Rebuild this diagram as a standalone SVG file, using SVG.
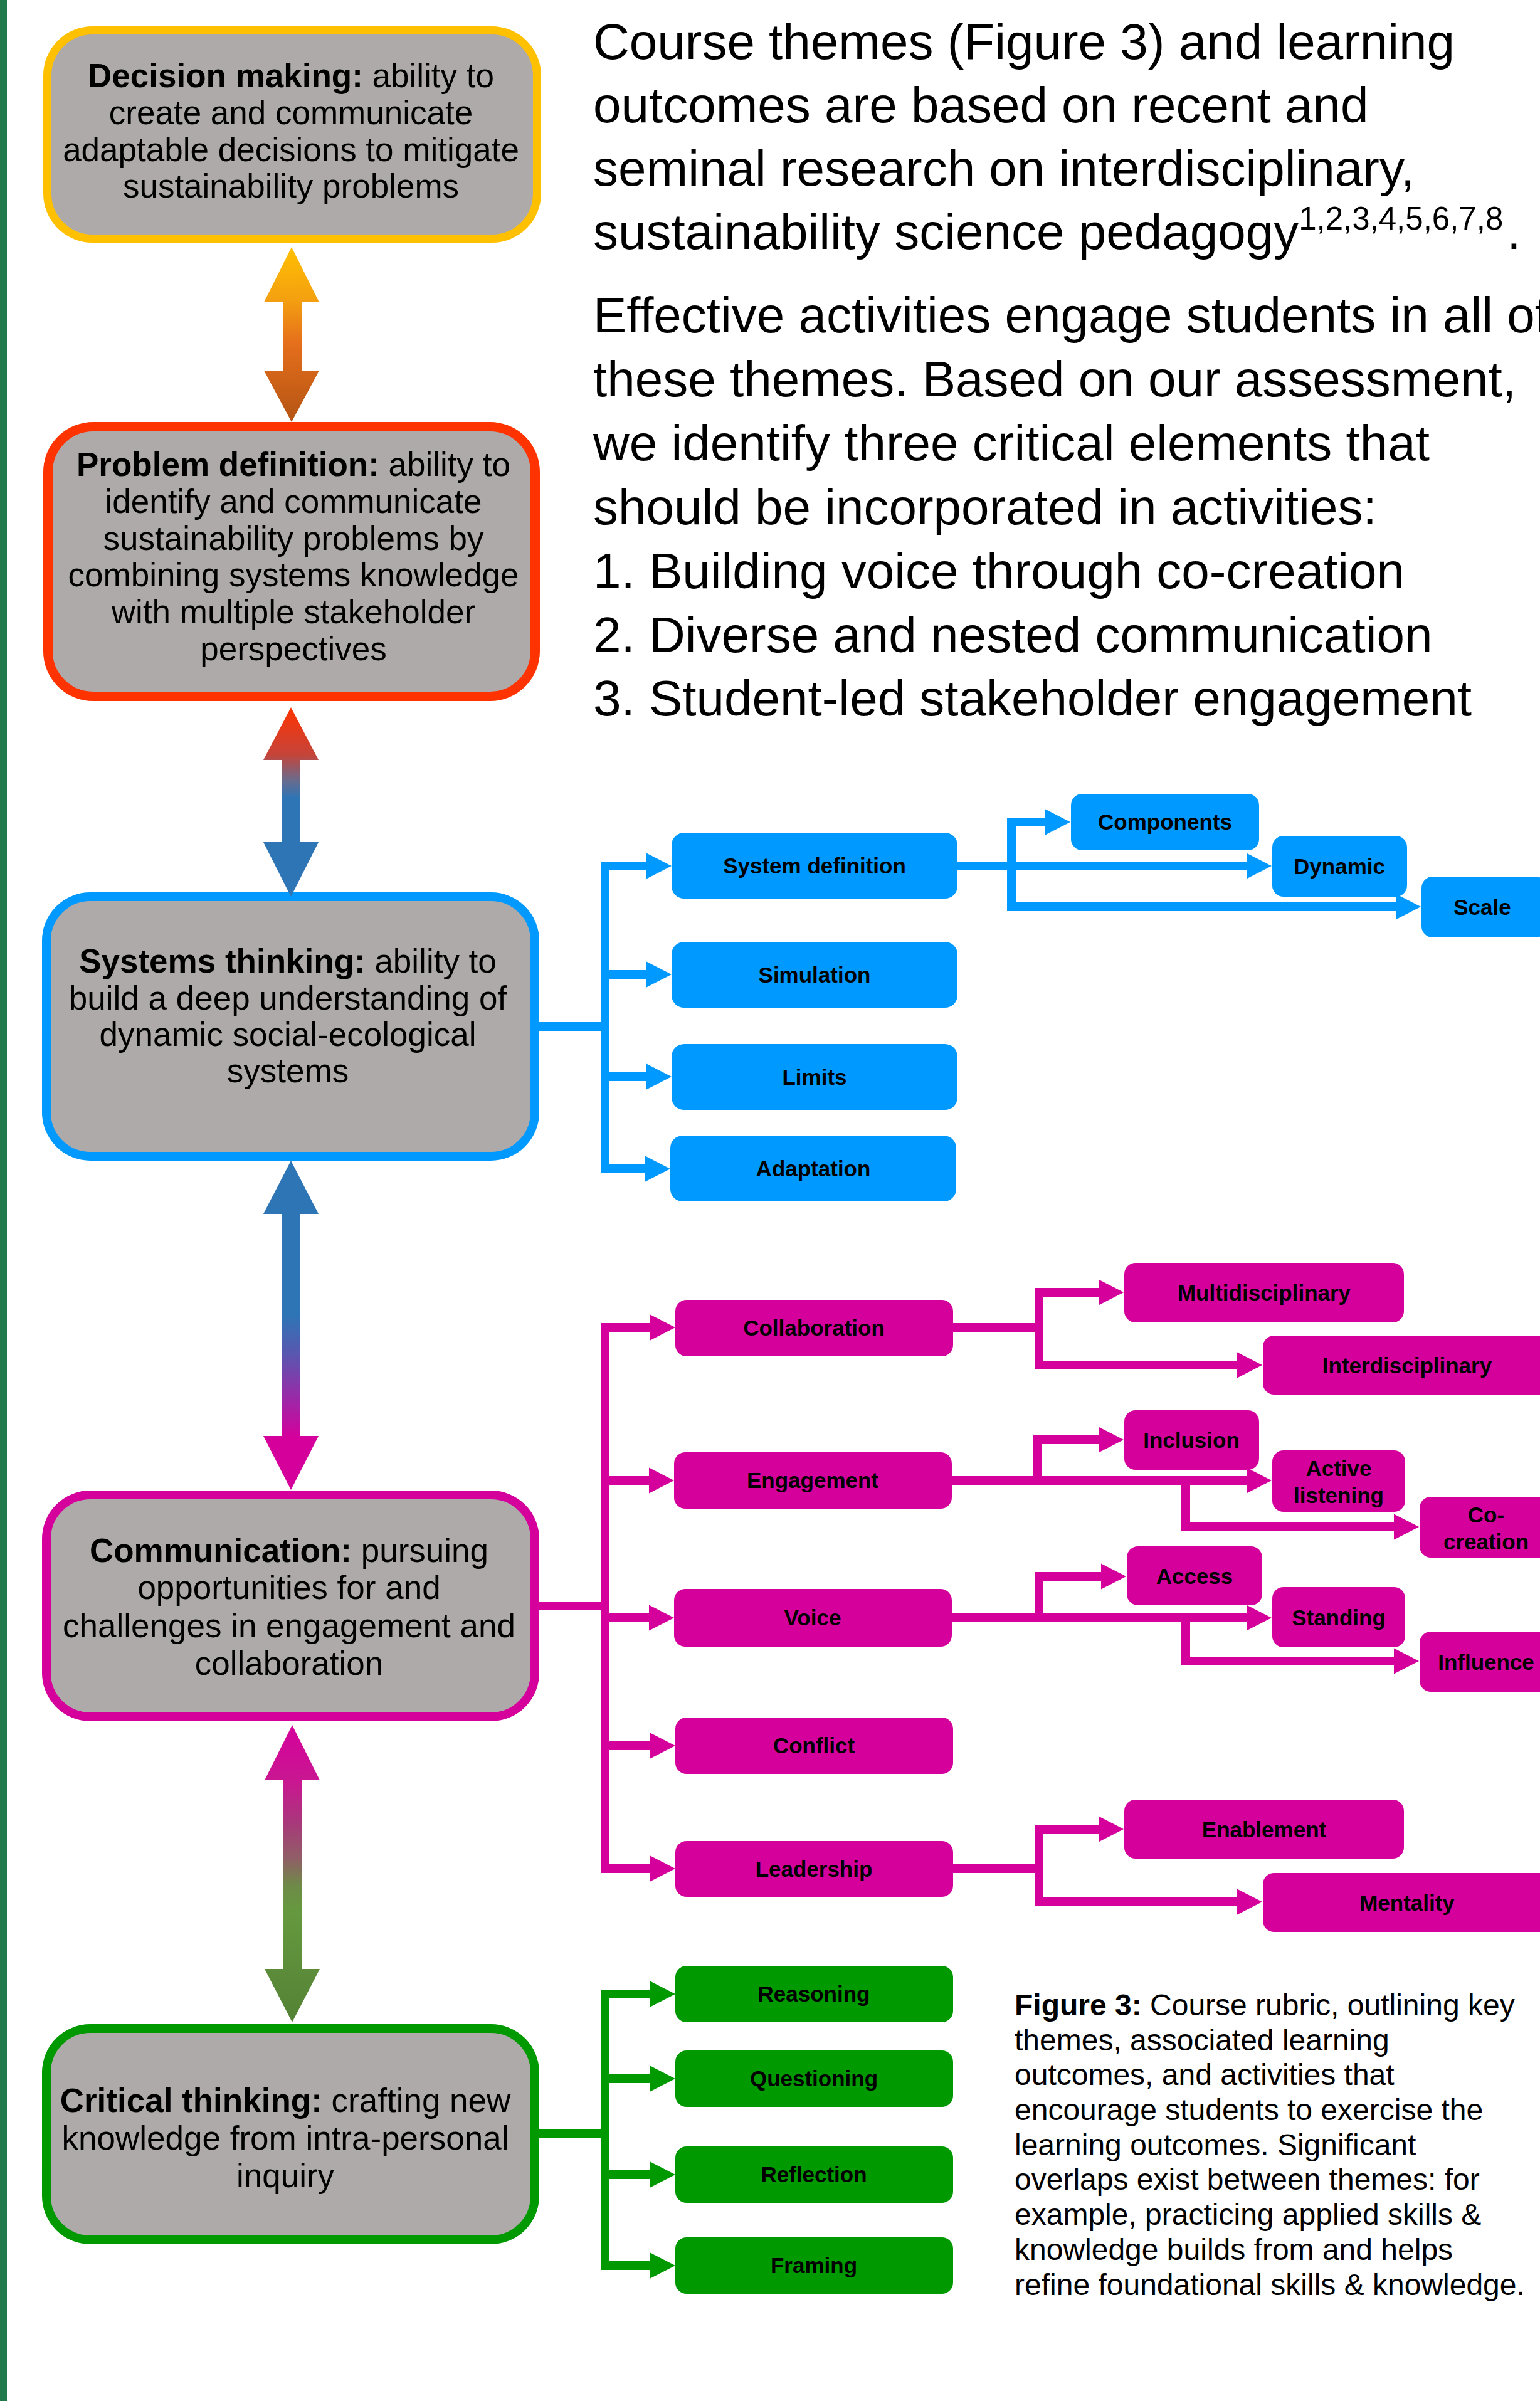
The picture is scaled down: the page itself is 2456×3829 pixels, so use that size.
<svg xmlns="http://www.w3.org/2000/svg" width="2456" height="3829" viewBox="0 0 2456 3829">
<style>
  text { font-family: "Liberation Sans", Arial, Helvetica, sans-serif; fill: #000; }
  .theme rect { fill: #aeaaaa; }
  .theme text { font-size: 53px; text-anchor: middle; }
  .b { font-weight: bold; }
  .node text { font-size: 35px; font-weight: bold; text-anchor: middle; }
  .blue rect { fill: #0099ff; }
  .mag rect { fill: #d5009c; }
  .grn rect { fill: #009900; }
  .cb, .cm, .cg { fill: none; stroke-width: 14; stroke-linejoin: miter; }
  .cb { stroke: #0099ff; }
  .cm { stroke: #d5009c; }
  .cg { stroke: #009900; }
  .para { font-size: 80px; }
  .cap { font-size: 48px; }
</style>
<defs>
  <marker id="headB" markerUnits="userSpaceOnUse" markerWidth="40" markerHeight="41" refX="0" refY="20.5" orient="auto" overflow="visible">
    <path d="M0,0 L40,20.5 L0,41 Z" fill="#0099ff"/>
  </marker>
  <marker id="headM" markerUnits="userSpaceOnUse" markerWidth="40" markerHeight="41" refX="0" refY="20.5" orient="auto" overflow="visible">
    <path d="M0,0 L40,20.5 L0,41 Z" fill="#d5009c"/>
  </marker>
  <marker id="headG" markerUnits="userSpaceOnUse" markerWidth="40" markerHeight="41" refX="0" refY="20.5" orient="auto" overflow="visible">
    <path d="M0,0 L40,20.5 L0,41 Z" fill="#009900"/>
  </marker>
  <linearGradient id="g1" gradientUnits="userSpaceOnUse" x1="0" y1="394" x2="0" y2="673">
    <stop offset="0" stop-color="#ffc000"/>
    <stop offset="0.3" stop-color="#f4a010"/>
    <stop offset="0.55" stop-color="#e56f1c"/>
    <stop offset="1" stop-color="#b45414"/>
  </linearGradient>
  <linearGradient id="g2" gradientUnits="userSpaceOnUse" x1="0" y1="1128" x2="0" y2="1430">
    <stop offset="0" stop-color="#ff3300"/>
    <stop offset="0.25" stop-color="#c5443a"/>
    <stop offset="0.38" stop-color="#6d6a8a"/>
    <stop offset="0.48" stop-color="#2e75b6"/>
    <stop offset="1" stop-color="#2e75b6"/>
  </linearGradient>
  <linearGradient id="g3" gradientUnits="userSpaceOnUse" x1="0" y1="1851" x2="0" y2="2376">
    <stop offset="0" stop-color="#2e75b6"/>
    <stop offset="0.47" stop-color="#2e75b6"/>
    <stop offset="0.59" stop-color="#5a56b0"/>
    <stop offset="0.72" stop-color="#9a2aa8"/>
    <stop offset="0.84" stop-color="#d5009c"/>
    <stop offset="1" stop-color="#d5009c"/>
  </linearGradient>
  <linearGradient id="g4" gradientUnits="userSpaceOnUse" x1="0" y1="2751" x2="0" y2="3225">
    <stop offset="0" stop-color="#d5009c"/>
    <stop offset="0.2" stop-color="#c81890"/>
    <stop offset="0.33" stop-color="#a8387a"/>
    <stop offset="0.45" stop-color="#905f66"/>
    <stop offset="0.54" stop-color="#6e8a48"/>
    <stop offset="0.62" stop-color="#66993f"/>
    <stop offset="1" stop-color="#548235"/>
  </linearGradient>
</defs>

<rect width="2456" height="3829" fill="#ffffff"/>
<!-- left margin bar -->
<rect x="0" y="0" width="11" height="3829" fill="#217a4b"/>

<!-- theme boxes -->
<g id="decision-making" class="theme">
  <rect x="75.5" y="48.5" width="781" height="332" rx="72" ry="72" stroke="#ffc000" stroke-width="13"/>
  <text x="464" y="139"><tspan class="b">Decision making:</tspan> ability to</text>
  <text x="464" y="198">create and communicate</text>
  <text x="464" y="257">adaptable decisions to mitigate</text>
  <text x="464" y="315">sustainability problems</text>
</g>
<g id="problem-definition" class="theme">
  <rect x="76.5" y="680.5" width="777" height="430" rx="72" ry="72" stroke="#ff3300" stroke-width="15"/>
  <text x="468" y="759"><tspan class="b">Problem definition:</tspan> ability to</text>
  <text x="468" y="818">identify and communicate</text>
  <text x="468" y="877">sustainability problems by</text>
  <text x="468" y="935">combining systems knowledge</text>
  <text x="468" y="994">with multiple stakeholder</text>
  <text x="468" y="1053">perspectives</text>
</g>
<g id="systems-thinking" class="theme">
  <rect x="74" y="1430" width="779" height="414" rx="70" ry="70" stroke="#0099ff" stroke-width="14"/>
  <text x="459" y="1551"><tspan class="b">Systems thinking:</tspan> ability to</text>
  <text x="459" y="1610">build a deep understanding of</text>
  <text x="459" y="1668">dynamic social-ecological</text>
  <text x="459" y="1726">systems</text>
</g>
<g id="communication" class="theme">
  <rect x="74" y="2384" width="779" height="354" rx="70" ry="70" stroke="#d5009c" stroke-width="14"/>
  <text x="461" y="2491"><tspan class="b">Communication:</tspan> pursuing</text>
  <text x="461" y="2550">opportunities for and</text>
  <text x="461" y="2611">challenges in engagement and</text>
  <text x="461" y="2671">collaboration</text>
</g>
<g id="critical-thinking" class="theme">
  <rect x="74" y="3235" width="779" height="337" rx="70" ry="70" stroke="#009900" stroke-width="14"/>
  <text x="455" y="3368"><tspan class="b">Critical thinking:</tspan> crafting new</text>
  <text x="455" y="3428">knowledge from intra-personal</text>
  <text x="455" y="3488">inquiry</text>
</g>

<!-- double-headed arrows between themes -->
<g id="theme-links">
  <polygon fill="url(#g1)" points="465,394 509,482 481,482 481,591 509,591 465,673 421,591 451,591 451,482 421,482"/>
  <polygon fill="url(#g2)" points="464,1128 508,1212 479,1212 479,1343 508,1343 464,1430 420,1343 449,1343 449,1212 420,1212"/>
  <polygon fill="url(#g3)" points="464,1851 508,1936 479,1936 479,2290 508,2290 464,2376 420,2290 449,2290 449,1936 420,1936"/>
  <polygon fill="url(#g4)" points="466,2751 510,2839 481,2839 481,3140 510,3140 466,3225 422,3140 451,3140 451,2839 422,2839"/>
</g>

<!-- connectors -->
<g id="connectors">
  <!-- systems thinking -->
  <path class="cb" d="M853 1637 H965"/>
  <path class="cb" d="M965 1374 V1871"/>
  <path class="cb" d="M965 1381 H1031" marker-end="url(#headB)"/>
  <path class="cb" d="M965 1554 H1031" marker-end="url(#headB)"/>
  <path class="cb" d="M965 1717 H1031" marker-end="url(#headB)"/>
  <path class="cb" d="M965 1864 H1029" marker-end="url(#headB)"/>
  <path class="cb" d="M1527 1381 H1988" marker-end="url(#headB)"/>
  <path class="cb" d="M1613 1304 V1453"/>
  <path class="cb" d="M1613 1311 H1667" marker-end="url(#headB)"/>
  <path class="cb" d="M1613 1446 H2226" marker-end="url(#headB)"/>

  <!-- communication -->
  <path class="cm" d="M853 2561 H965"/>
  <path class="cm" d="M965 2110 V2987"/>
  <path class="cm" d="M965 2117 H1037" marker-end="url(#headM)"/>
  <path class="cm" d="M965 2361 H1035" marker-end="url(#headM)"/>
  <path class="cm" d="M965 2580 H1035" marker-end="url(#headM)"/>
  <path class="cm" d="M965 2784 H1037" marker-end="url(#headM)"/>
  <path class="cm" d="M965 2980 H1037" marker-end="url(#headM)"/>

  <path class="cm" d="M1520 2117 H1657"/>
  <path class="cm" d="M1657 2054 V2184"/>
  <path class="cm" d="M1657 2061 H1752" marker-end="url(#headM)"/>
  <path class="cm" d="M1657 2177 H1973" marker-end="url(#headM)"/>

  <path class="cm" d="M1518 2361 H1988" marker-end="url(#headM)"/>
  <path class="cm" d="M1655 2289 V2361"/>
  <path class="cm" d="M1655 2296 H1752" marker-end="url(#headM)"/>
  <path class="cm" d="M1891 2361 V2442"/>
  <path class="cm" d="M1891 2435 H2223" marker-end="url(#headM)"/>

  <path class="cm" d="M1518 2580 H1988" marker-end="url(#headM)"/>
  <path class="cm" d="M1657 2507 V2580"/>
  <path class="cm" d="M1657 2514 H1756" marker-end="url(#headM)"/>
  <path class="cm" d="M1891 2580 V2656"/>
  <path class="cm" d="M1891 2649 H2223" marker-end="url(#headM)"/>

  <path class="cm" d="M1520 2980 H1657"/>
  <path class="cm" d="M1657 2910 V3040"/>
  <path class="cm" d="M1657 2917 H1752" marker-end="url(#headM)"/>
  <path class="cm" d="M1657 3033 H1973" marker-end="url(#headM)"/>

  <!-- critical thinking -->
  <path class="cg" d="M853 3402 H965"/>
  <path class="cg" d="M965 3173 V3620"/>
  <path class="cg" d="M965 3180 H1037" marker-end="url(#headG)"/>
  <path class="cg" d="M965 3315 H1037" marker-end="url(#headG)"/>
  <path class="cg" d="M965 3468 H1037" marker-end="url(#headG)"/>
  <path class="cg" d="M965 3613 H1037" marker-end="url(#headG)"/>
</g>

<!-- systems thinking activities -->
<g id="system-definition" class="node blue"><rect x="1071" y="1328" width="456" height="105" rx="20"/><text x="1299" y="1393">System definition</text></g>
<g id="simulation" class="node blue"><rect x="1071" y="1502" width="456" height="105" rx="20"/><text x="1299" y="1567">Simulation</text></g>
<g id="limits" class="node blue"><rect x="1071" y="1665" width="456" height="105" rx="20"/><text x="1299" y="1730">Limits</text></g>
<g id="adaptation" class="node blue"><rect x="1069" y="1811" width="456" height="105" rx="20"/><text x="1297" y="1876">Adaptation</text></g>
<g id="components" class="node blue"><rect x="1708" y="1266" width="300" height="90" rx="18"/><text x="1858" y="1323">Components</text></g>
<g id="dynamic" class="node blue"><rect x="2029" y="1333" width="215" height="97" rx="18"/><text x="2136" y="1394">Dynamic</text></g>
<g id="scale" class="node blue"><rect x="2267" y="1398" width="200" height="97" rx="18"/><text x="2364" y="1459">Scale</text></g>

<!-- communication activities -->
<g id="collaboration" class="node mag"><rect x="1077" y="2073" width="443" height="90" rx="18"/><text x="1298" y="2130">Collaboration</text></g>
<g id="engagement" class="node mag"><rect x="1075" y="2316" width="443" height="90" rx="18"/><text x="1296" y="2373">Engagement</text></g>
<g id="voice" class="node mag"><rect x="1075" y="2534" width="443" height="92" rx="18"/><text x="1296" y="2592">Voice</text></g>
<g id="conflict" class="node mag"><rect x="1077" y="2739" width="443" height="90" rx="18"/><text x="1298" y="2796">Conflict</text></g>
<g id="leadership" class="node mag"><rect x="1077" y="2936" width="443" height="89" rx="18"/><text x="1298" y="2993">Leadership</text></g>
<g id="multidisciplinary" class="node mag"><rect x="1793" y="2014" width="446" height="95" rx="18"/><text x="2016" y="2074">Multidisciplinary</text></g>
<g id="interdisciplinary" class="node mag"><rect x="2014" y="2130" width="460" height="94" rx="18"/><text x="2244" y="2190">Interdisciplinary</text></g>
<g id="inclusion" class="node mag"><rect x="1793" y="2249" width="215" height="95" rx="18"/><text x="1900" y="2309">Inclusion</text></g>
<g id="active-listening" class="node mag"><rect x="2029" y="2313" width="212" height="98" rx="18"/><text x="2135" y="2354">Active</text><text x="2135" y="2397">listening</text></g>
<g id="co-creation" class="node mag"><rect x="2264" y="2387" width="215" height="97" rx="18"/><text x="2370" y="2428">Co-</text><text x="2370" y="2471">creation</text></g>
<g id="access" class="node mag"><rect x="1797" y="2466" width="216" height="94" rx="18"/><text x="1905" y="2526">Access</text></g>
<g id="standing" class="node mag"><rect x="2029" y="2531" width="212" height="96" rx="18"/><text x="2135" y="2592">Standing</text></g>
<g id="influence" class="node mag"><rect x="2264" y="2602" width="215" height="96" rx="18"/><text x="2370" y="2663">Influence</text></g>
<g id="enablement" class="node mag"><rect x="1793" y="2870" width="446" height="94" rx="18"/><text x="2016" y="2930">Enablement</text></g>
<g id="mentality" class="node mag"><rect x="2014" y="2987" width="460" height="94" rx="18"/><text x="2244" y="3047">Mentality</text></g>

<!-- critical thinking activities -->
<g id="reasoning" class="node grn"><rect x="1077" y="3135" width="443" height="90" rx="18"/><text x="1298" y="3192">Reasoning</text></g>
<g id="questioning" class="node grn"><rect x="1077" y="3270" width="443" height="90" rx="18"/><text x="1298" y="3327">Questioning</text></g>
<g id="reflection" class="node grn"><rect x="1077" y="3423" width="443" height="90" rx="18"/><text x="1298" y="3480">Reflection</text></g>
<g id="framing" class="node grn"><rect x="1077" y="3568" width="443" height="90" rx="18"/><text x="1298" y="3625">Framing</text></g>

<!-- explanatory paragraph -->
<g id="intro-text" class="para">
  <text x="946" y="94">Course themes (Figure 3) and learning</text>
  <text x="946" y="195">outcomes are based on recent and</text>
  <text x="946" y="296">seminal research on interdisciplinary,</text>
  <text x="946" y="397">sustainability science pedagogy<tspan font-size="51" dy="-31">1,2,3,4,5,6,7,8</tspan><tspan dy="31" dx="6">.</tspan></text>
  <text x="946" y="530">Effective activities engage students in all of</text>
  <text x="946" y="632">these themes. Based on our assessment,</text>
  <text x="946" y="734">we identify three critical elements that</text>
  <text x="946" y="836">should be incorporated in activities:</text>
  <text x="946" y="938">1. Building voice through co-creation</text>
  <text x="946" y="1040">2. Diverse and nested communication</text>
  <text x="946" y="1141">3. Student-led stakeholder engagement</text>
</g>

<!-- figure caption -->
<g id="caption" class="cap">
  <text x="1618" y="3214"><tspan class="b">Figure 3:</tspan> Course rubric, outlining key</text>
  <text x="1618" y="3270">themes, associated learning</text>
  <text x="1618" y="3325">outcomes, and activities that</text>
  <text x="1618" y="3381">encourage students to exercise the</text>
  <text x="1618" y="3437">learning outcomes. Significant</text>
  <text x="1618" y="3492">overlaps exist between themes: for</text>
  <text x="1618" y="3548">example, practicing applied skills &amp;</text>
  <text x="1618" y="3604">knowledge builds from and helps</text>
  <text x="1618" y="3660">refine foundational skills &amp; knowledge.</text>
</g>
</svg>
